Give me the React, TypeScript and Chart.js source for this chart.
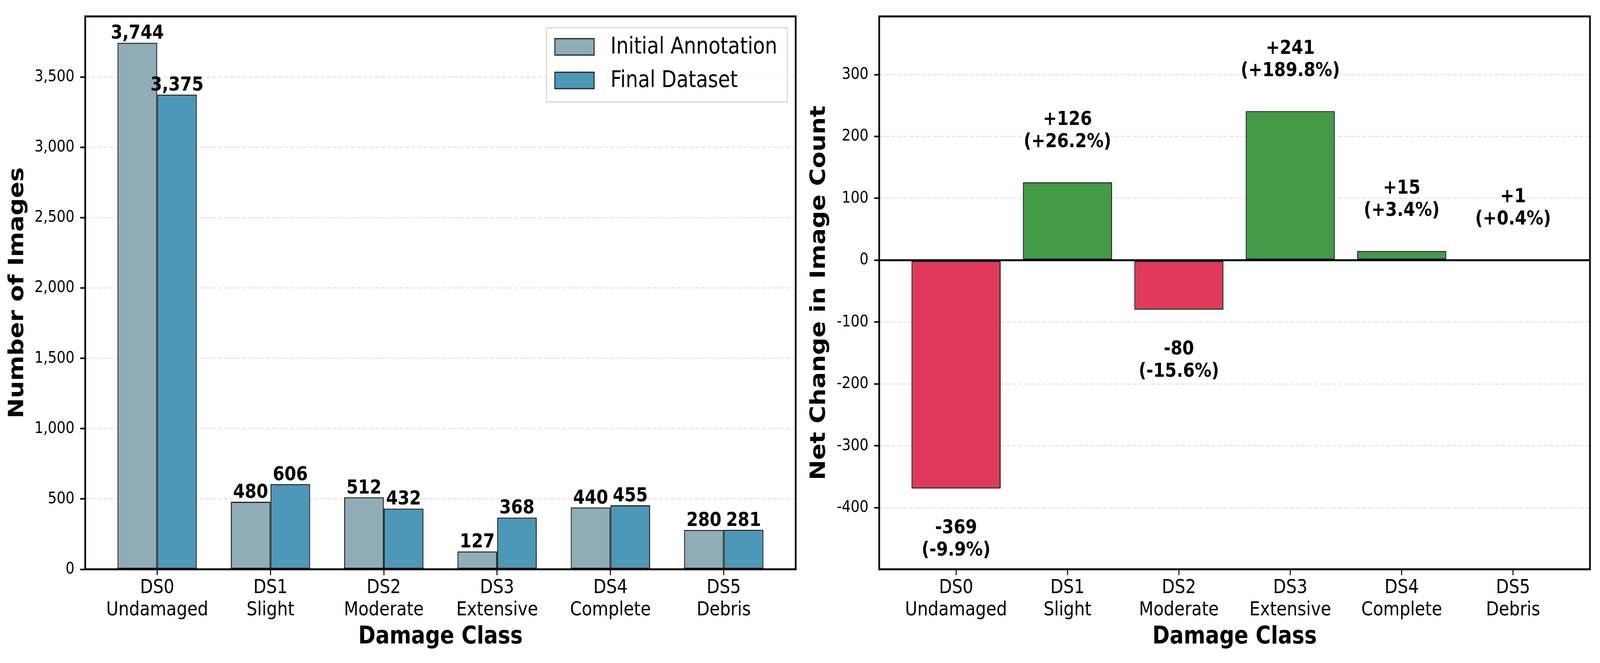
import React, { useEffect, useRef } from "react";
import { Chart, registerables } from "chart.js";

Chart.register(...registerables);

// ---------- data ----------
const classCodes = ["DS0", "DS1", "DS2", "DS3", "DS4", "DS5"];
const classNames = ["Undamaged", "Slight", "Moderate", "Extensive", "Complete", "Debris"];
const seriesLabels = ["Initial Annotation", "Final Dataset"];
const initialCounts = [3744, 480, 512, 127, 440, 280];
const finalCounts = [3375, 606, 432, 368, 455, 281];
const netChange = [-369, 126, -80, 241, 15, 1];
const pctChange = [-9.9, 26.2, -15.6, 189.8, 3.4, 0.4];
const xTickValues = [0, 1, 2, 3, 4, 5];
const leftYTicks = [0, 500, 1000, 1500, 2000, 2500, 3000, 3500];
const rightYTicks = [-400, -300, -200, -100, 0, 100, 200, 300];
const xAxisTitle = "Damage Class";
const leftYTitle = "Number of Images";
const rightYTitle = "Net Change in Image Count";

// ---------- styles ----------
const FONT = "'DejaVu Sans', sans-serif";
const GRAY = "#90ADB7";
const BLUE = "#4D98B8";
const GREEN = "#439B45";
const RED = "#E0395A";
const EDGE = "#222222";
const GRID = "rgba(176,176,176,0.32)";
const PAGE_W = 4770;
const PAGE_H = 1698;
const LEFT_W = 2400;
const RIGHT_W = 2370;

const framePlugin = {
  id: "frame",
  afterDraw(chart: any) {
    const { ctx, chartArea } = chart;
    const { left, top, right, bottom } = chartArea;
    ctx.save();
    ctx.strokeStyle = "#000";
    ctx.lineWidth = 5;
    ctx.strokeRect(left, top, right - left, bottom - top);
    ctx.restore();
  },
};

const leftLabelsPlugin = {
  id: "leftLabels",
  afterDraw(chart: any) {
    const { ctx } = chart;
    ctx.save();
    ctx.font = `bold 50px ${FONT}`;
    ctx.fillStyle = "#000";
    ctx.textAlign = "center";
    ctx.textBaseline = "alphabetic";
    [initialCounts, finalCounts].forEach((vals, d) => {
      const meta = chart.getDatasetMeta(d);
      meta.data.forEach((el: any, i: number) => {
        ctx.fillText(vals[i].toLocaleString("en-US"), el.x, el.y - 10);
      });
    });
    ctx.restore();
  },
};

const legendPlugin = {
  id: "customLegend",
  afterDraw(chart: any) {
    const { ctx, chartArea } = chart;
    ctx.save();
    ctx.font = `58px ${FONT}`;
    const tw = Math.max(...seriesLabels.map((s) => ctx.measureText(s).width));
    const w = 191 + tw + 30;
    const h = 190;
    const x0 = chartArea.right - 25 - w;
    const y0 = chartArea.top + 29;
    ctx.fillStyle = "rgba(255,255,255,0.85)";
    ctx.fillRect(x0, y0, w, h);
    ctx.strokeStyle = "#D6D6D6";
    ctx.lineWidth = 3;
    ctx.strokeRect(x0, y0, w, h);
    const colors = [GRAY, BLUE];
    const rows = [49, 135];
    seriesLabels.forEach((lab, i) => {
      const cy = y0 + rows[i];
      ctx.fillStyle = colors[i];
      ctx.fillRect(x0 + 25, cy - 21, 117, 42);
      ctx.strokeStyle = EDGE;
      ctx.lineWidth = 3;
      ctx.strokeRect(x0 + 25, cy - 21, 117, 42);
      ctx.fillStyle = "#000";
      ctx.textAlign = "left";
      ctx.textBaseline = "middle";
      ctx.fillText(lab, x0 + 191, cy + 2);
    });
    ctx.restore();
  },
};

const zeroLinePlugin = {
  id: "zeroLine",
  afterDraw(chart: any) {
    const { ctx, chartArea, scales } = chart;
    const y = scales.y.getPixelForValue(0);
    ctx.save();
    ctx.strokeStyle = "#000";
    ctx.lineWidth = 5;
    ctx.beginPath();
    ctx.moveTo(chartArea.left, y);
    ctx.lineTo(chartArea.right, y);
    ctx.stroke();
    ctx.restore();
  },
};

const rightLabelsPlugin = {
  id: "rightLabels",
  afterDraw(chart: any) {
    const { ctx } = chart;
    ctx.save();
    ctx.font = `bold 50px ${FONT}`;
    ctx.fillStyle = "#000";
    ctx.textAlign = "center";
    ctx.textBaseline = "alphabetic";
    const meta = chart.getDatasetMeta(0);
    meta.data.forEach((el: any, i: number) => {
      const v = netChange[i];
      const p = pctChange[i];
      const l1 = v > 0 ? `+${v}` : `${v}`;
      const l2 = `(${p > 0 ? "+" : ""}${p.toFixed(1)}%)`;
      if (v >= 0) {
        ctx.fillText(l2, el.x, el.y - 90);
        ctx.fillText(l1, el.x, el.y - 147);
      } else {
        ctx.fillText(l1, el.x, el.y + 115);
        ctx.fillText(l2, el.x, el.y + 172);
      }
    });
    ctx.restore();
  },
};

function xScale(min: number, max: number) {
  return {
    type: "linear",
    min,
    max,
    offset: false,
    afterBuildTicks(axis: any) {
      axis.ticks = xTickValues.map((v) => ({ value: v }));
    },
    afterFit(scale: any) {
      scale.height = 240;
    },
    grid: {
      offset: false,
      drawOnChartArea: false,
      drawTicks: true,
      tickLength: 15,
      tickColor: "#000",
      tickWidth: 3,
    },
    border: { display: false },
    ticks: {
      autoSkip: false,
      maxRotation: 0,
      minRotation: 0,
      padding: 5,
      color: "#000",
      font: { family: FONT, size: 50, lineHeight: 1.14 },
      callback: (value: number) => [classCodes[value], classNames[value]],
    },
    title: {
      display: true,
      text: xAxisTitle,
      color: "#000",
      font: { family: FONT, size: 62, weight: "bold", lineHeight: 1.2 },
      padding: { top: 0, bottom: 29 },
    },
  };
}

function yScale(
  min: number,
  max: number,
  tickVals: number[],
  width: number,
  title: string,
  titlePad: number,
  fmt: (v: number) => string
) {
  return {
    type: "linear",
    min,
    max,
    z: 1,
    afterBuildTicks(axis: any) {
      axis.ticks = tickVals.map((v) => ({ value: v }));
    },
    afterFit(scale: any) {
      scale.width = width;
    },
    grid: {
      drawOnChartArea: true,
      color: GRID,
      lineWidth: 3,
      drawTicks: true,
      tickLength: 15,
      tickColor: "#000",
      tickWidth: 4,
    },
    border: { display: false, dash: [12, 6] },
    ticks: {
      padding: 17,
      color: "#000",
      font: { family: FONT, size: 41.7 },
      callback: (value: number) => fmt(value),
    },
    title: {
      display: true,
      text: title,
      color: "#000",
      font: { family: FONT, size: 62, weight: "bold", lineHeight: 1.2 },
      padding: { top: titlePad, bottom: 0 },
    },
  };
}

function buildLeft(canvas: HTMLCanvasElement) {
  return new Chart(canvas, {
    type: "bar",
    data: {
      datasets: [
        {
          label: seriesLabels[0],
          data: xTickValues.map((i) => ({ x: i, y: initialCounts[i] })),
          backgroundColor: GRAY,
          borderColor: EDGE,
          borderWidth: 3,
          borderSkipped: false,
          categoryPercentage: 0.7,
          barPercentage: 1.0,
        },
        {
          label: seriesLabels[1],
          data: xTickValues.map((i) => ({ x: i, y: finalCounts[i] })),
          backgroundColor: BLUE,
          borderColor: EDGE,
          borderWidth: 3,
          borderSkipped: false,
          categoryPercentage: 0.7,
          barPercentage: 1.0,
        },
      ],
    } as any,
    options: {
      animation: false,
      responsive: false,
      devicePixelRatio: 1,
      layout: { padding: { top: 30, right: 28, left: 0, bottom: 0 } },
      plugins: { legend: { display: false }, tooltip: { enabled: false } },
      scales: {
        x: xScale(-0.635, 5.635),
        y: yScale(0, 3744 * 1.05, leftYTicks, 254, leftYTitle, 16, (v) => v.toLocaleString("en-US")),
      },
    } as any,
    plugins: [leftLabelsPlugin, legendPlugin, framePlugin],
  });
}

function buildRight(canvas: HTMLCanvasElement) {
  return new Chart(canvas, {
    type: "bar",
    data: {
      datasets: [
        {
          label: "Net Change",
          data: xTickValues.map((i) => ({ x: i, y: netChange[i] })),
          backgroundColor: netChange.map((v) => (v >= 0 ? GREEN : RED)),
          borderColor: EDGE,
          borderWidth: 3,
          borderSkipped: false,
          categoryPercentage: 0.8,
          barPercentage: 1.0,
        },
      ],
    } as any,
    options: {
      animation: false,
      responsive: false,
      devicePixelRatio: 1,
      layout: { padding: { top: 30, right: 30, left: 0, bottom: 0 } },
      plugins: { legend: { display: false }, tooltip: { enabled: false } },
      scales: {
        x: xScale(-0.69, 5.69),
        y: yScale(-499.4, 394, rightYTicks, 221, rightYTitle, 6, (v) => String(v)),
      },
    } as any,
    plugins: [zeroLinePlugin, rightLabelsPlugin, framePlugin],
  });
}

export default function App() {
  const leftRef = useRef<HTMLCanvasElement | null>(null);
  const rightRef = useRef<HTMLCanvasElement | null>(null);
  // the viewport may be narrower than the requested page; fit the drawing to it
  const vw = typeof window !== "undefined" ? window.innerWidth : PAGE_W;
  const sx = Math.min(1, vw / PAGE_W);

  useEffect(() => {
    document.body.style.margin = "0";
    const a = leftRef.current ? buildLeft(leftRef.current) : null;
    const b = rightRef.current ? buildRight(rightRef.current) : null;
    return () => {
      a && a.destroy();
      b && b.destroy();
    };
  }, []);

  return (
    <div
      style={{
        position: "absolute",
        left: 0,
        top: 0,
        width: PAGE_W * sx,
        height: PAGE_H,
        background: "#fff",
        overflow: "hidden",
      }}
    >
      <canvas
        ref={leftRef}
        width={LEFT_W}
        height={PAGE_H}
        style={{ position: "absolute", left: 0, top: 0, width: LEFT_W * sx, height: PAGE_H }}
      />
      <canvas
        ref={rightRef}
        width={RIGHT_W}
        height={PAGE_H}
        style={{ position: "absolute", left: LEFT_W * sx, top: 0, width: RIGHT_W * sx, height: PAGE_H }}
      />
    </div>
  );
}
